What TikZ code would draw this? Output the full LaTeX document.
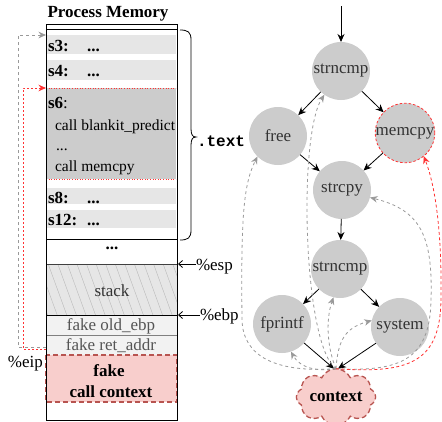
\documentclass[tikz,border=0pt]{standalone}
\usepackage{fontspec}
\setmainfont{Liberation Serif}
\setmonofont{Liberation Mono}
\usetikzlibrary{arrows.meta,shapes.symbols,patterns.meta,calc}

\definecolor{nodegray}{HTML}{CCCCCC}
\definecolor{rowgray}{HTML}{E6E6E6}
\definecolor{lightrow}{HTML}{F2F2F2}
\definecolor{ctxfill}{HTML}{F8CECC}
\definecolor{ctxline}{HTML}{B85450}
\definecolor{txtgray}{HTML}{333333}
\definecolor{softtxt}{HTML}{555555}
\definecolor{midgray}{HTML}{999999}
\definecolor{redline}{HTML}{FF3333}

\newcommand\fsMain{\fontsize{17}{20}\selectfont}
\newcommand\fsCode{\fontsize{15.5}{18}\selectfont}

\begin{document}
\begin{tikzpicture}[x=1pt,y=-1pt,
  every node/.style={inner sep=0pt,outer sep=0pt},
  cell/.style={anchor=north west,minimum width=130pt},
  wcell/.style={anchor=north west,minimum width=131pt},
  rowtxt/.style={anchor=base west,font=\fsMain\bfseries},
  codetxt/.style={anchor=base west,font=\fsCode},
  fn/.style={circle,fill=nodegray,minimum size=58pt,font=\fsMain,text=txtgray},
  flow/.style={draw=black,line width=0.8pt,-{Stealth[length=8pt,width=7pt]}},
  ghost/.style={draw=midgray,line width=0.8pt,dash pattern=on 3pt off 3pt,-{Stealth[length=7.5pt,width=6.5pt]}},
  hijack/.style={draw=redline,line width=0.8pt,dash pattern=on 3pt off 2.5pt,-{Stealth[length=7.5pt,width=6.5pt]}},
  ptr/.style={draw=black,line width=0.8pt,-{Straight Barb[length=4pt,width=7pt]}},
  fakeline/.style={draw=ctxline,line width=1.3pt,dash pattern=on 5pt off 3pt}]

\useasboundingbox (0,0) rectangle (442,421);

% ---------- process memory column ----------
\node[anchor=base,font=\fsMain\bfseries] (title) at (108,17) {Process Memory};

\node[cell,fill=rowgray,minimum height=19pt] (s3) at (46,35) {};
\node[cell,fill=rowgray,minimum height=20pt] (s4) at (46,60) {};
\node[cell,fill=nodegray,minimum height=91pt] (s6) at (46,88) {};
\node[cell,fill=rowgray,minimum height=16pt] (s8) at (46,188) {};
\node[cell,fill=rowgray,minimum height=18pt] (s12) at (46,210) {};
\node[wcell,minimum height=25pt] (gap) at (46,239) {};
\node[wcell,minimum height=51pt,preaction={fill=rowgray},
      pattern={Lines[angle=-70,distance=9pt,line width=0.4pt]},pattern color=gray!55] (stack) at (46,264) {};
\node[wcell,fill=lightrow,minimum height=20pt] (oldebp) at (46,315) {};
\node[wcell,fill=lightrow,minimum height=20pt] (retaddr) at (46,335) {};
\node[wcell,fill=ctxfill,minimum height=47pt] (fakectx) at (46,355) {};
\draw[fakeline] (fakectx.north west) rectangle (fakectx.south east);

\draw[redline,line width=0.6pt,dotted] (s6.north west) -- (s6.north east);
\draw[redline,line width=0.6pt,dotted] (s6.south west) -- (s6.south east);

\draw[line width=0.8pt] (46,29) -- (177,29);
\draw[line width=0.8pt] (gap.north west) -- (gap.north east);
\draw[line width=0.8pt,black!75] (stack.north west) -- (stack.north east);
\draw[line width=0.8pt] (stack.south west) -- (stack.south east);
\draw[line width=0.8pt,black!50] (retaddr.north west) -- (retaddr.north east);

\node[draw,line width=0.9pt,anchor=north west,minimum width=131pt,minimum height=396pt] (mem) at (46,24) {};

% row labels
\node[rowtxt] (l3) at (48,51) {s3:};
\node[rowtxt] (d3) at (87,51) {...};
\node[rowtxt] (l4) at (48,76) {s4:};
\node[rowtxt] (d4) at (87,76) {...};
\node[anchor=base west,font=\fsMain] (l6) at (48,108) {\textbf{s6}:};
\node[codetxt] (c1) at (55,130) {call blankit\_predict};
\node[codetxt] (c2) at (56,150) {...};
\node[codetxt] (c3) at (55,171) {call memcpy};
\node[rowtxt] (l8) at (48,203) {s8:};
\node[rowtxt] (d8) at (87,203) {...};
\node[rowtxt] (l12) at (48,225) {s12:};
\node[rowtxt] (d12) at (87,225) {...};
\node[anchor=base,font=\fsMain\bfseries] (dots) at (112,249) {...};
\node[anchor=base,font=\fsMain,text=txtgray] (stxt) at (112,296) {stack};
\node[anchor=base,font=\fsMain,text=softtxt] (otxt) at (111,330) {fake old\_ebp};
\node[anchor=base,font=\fsMain,text=softtxt] (rtxt) at (111,350) {fake ret\_addr};
\node[anchor=base,font=\fsMain\bfseries] (ftxt1) at (109,376) {fake};
\node[anchor=base,font=\fsMain\bfseries] (ftxt2) at (111,397) {call context};

% .text brace
\draw[line width=0.8pt] (180,30) .. controls (188,30) and (191,32) .. (191,40) -- (191,128)
  .. controls (191,134) and (192,137) .. (196,137)
  .. controls (192,137) and (191,140) .. (191,146) -- (191,230)
  .. controls (191,238) and (188,240) .. (180,240);
\node[anchor=west,font=\fontsize{16}{18}\selectfont\ttfamily\bfseries] (textseg) at (197,141) {.text};

% register pointers
\node[anchor=base west,font=\fsMain] (esp) at (196,270) {\%esp};
\node[anchor=base west,font=\fsMain] (ebp) at (200,320) {\%ebp};
\node[anchor=base west,font=\fsMain] (eip) at (8,367) {\%eip};
\draw[ptr] (esp.west |- stack.north east) -- ([xshift=1pt]stack.north east);
\draw[ptr] (ebp.west |- stack.south east) -- ([xshift=1pt]stack.south east);

% jumps back into .text
\draw[ghost] ([yshift=-2pt]retaddr.west) -- ++(-28,0) |- (s3.north west);
\draw[hijack,dash pattern=on 2pt off 2pt] ([yshift=-4pt]retaddr.west) -- ++(-23,0) |- (s6.north west);

% ---------- call graph ----------
\coordinate (entry) at (341,6);
\node[fn] (n1) at (341,71) {strncmp};
\node[fn] (nfree) at (278,136) {free};
\node[fn,draw=redline,line width=0.8pt,dash pattern=on 2.5pt off 2pt] (nmem) at (405,133) {memcpy};
\node[fn] (ncpy) at (342,190) {strcpy};
\node[fn] (n2) at (340,269) {strncmp};
\node[fn] (nfp) at (282,324) {fprintf};
\node[fn] (nsys) at (400,327) {system};
\node[cloud,cloud puffs=8,cloud puff arc=130,aspect=1.8,minimum width=78pt,minimum height=43pt,
      fill=ctxfill,fakeline,font=\fsMain\bfseries] (ctx) at (336,397) {context};

\draw[flow] (entry) -- (n1);
\draw[flow] (n1) -- (nfree);
\draw[flow] (n1) -- (nmem);
\draw[flow] (nfree) -- (ncpy);
\draw[flow] (nmem) -- (ncpy);
\draw[flow] (ncpy) -- (n2);
\draw[flow] (n2) -- (nfp);
\draw[flow] (n2) -- (nsys);
\draw[flow] (nfp) -- ([xshift=-2pt]ctx.north);
\draw[flow] (nsys) -- ([xshift=2pt]ctx.north);

% edges forged from the fake context
\draw[ghost] (ctx.north) .. controls (318,372) and (300,368) .. (nfp.-72);
\draw[ghost] (ctx.north) .. controls (275,373) and (243,356) .. (242,320)
  .. controls (241,220) and (243,185) .. (nfree.-135);
\draw[ghost] (ctx.north) .. controls (303,345) and (298,135) .. (n1.-125);
\draw[ghost] (ctx.north) .. controls (328,350) and (325,322) .. (n2.-103);
\draw[ghost] (ctx.north) .. controls (338,340) and (345,328) .. (nsys.167);
\draw[ghost] (ctx.north) .. controls (400,372) and (430,360) .. (431,300)
  .. controls (433,235) and (420,210) .. (ncpy.-15);
\draw[hijack] (ctx.north) .. controls (410,374) and (440,362) .. (441,300)
  .. controls (442,230) and (435,185) .. (nmem.-51);
\end{tikzpicture}
\end{document}
